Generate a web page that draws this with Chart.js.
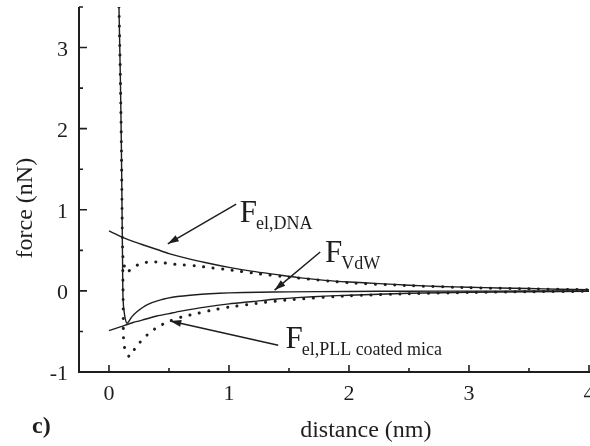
<!DOCTYPE html>
<html>
<head>
<meta charset="utf-8">
<script src="https://cdn.jsdelivr.net/npm/chart.js@4.4.0/dist/chart.umd.min.js"></script>
<style>
  html, body { margin: 0; padding: 0; background: #fff; }
  canvas { display: block; }
</style>
</head>
<body>
<canvas id="c" width="590" height="446"></canvas>
<script>
// Force components vs. tip–sample distance (nm, nN)

// Electrostatic force from the DNA layer
const dnaX = [0, 0.1, 0.2, 0.3, 0.4, 0.5, 0.6, 0.8, 1.0, 1.2, 1.4, 1.6, 1.8, 2.0, 2.25, 2.5, 2.75, 3.0, 3.25, 3.5, 3.75, 4.0];
const dnaY = [0.74, 0.67, 0.61, 0.56, 0.51, 0.46, 0.42, 0.35, 0.29, 0.24, 0.20, 0.16, 0.13, 0.11, 0.09, 0.07, 0.055, 0.045, 0.035, 0.03, 0.02, 0.015];

// Electrostatic force from PLL coated mica
const pllX = [0, 0.1, 0.2, 0.3, 0.4, 0.5, 0.6, 0.8, 1.0, 1.2, 1.4, 1.6, 1.8, 2.0, 2.5, 3.0, 3.5, 4.0];
const pllY = [-0.49, -0.44, -0.39, -0.35, -0.31, -0.28, -0.25, -0.20, -0.16, -0.13, -0.10, -0.08, -0.065, -0.053, -0.03, -0.017, -0.01, -0.006];

// Van der Waals force with the contact wall
const vdwX = [0.083, 0.095, 0.103, 0.108, 0.112, 0.117, 0.13, 0.15, 0.19, 0.23, 0.32, 0.43, 0.57, 0.70, 0.84, 1.0, 1.25, 1.5, 2.0, 2.5, 3.0, 3.5, 4.0];
const vdwY = [3.5, 2.6, 1.8, 1.1, 0.5, -0.1, -0.3, -0.40, -0.32, -0.26, -0.17, -0.11, -0.07, -0.05, -0.035, -0.025, -0.017, -0.012, -0.007, -0.004, -0.003, -0.002, 0];

// Total force over DNA (dotted)
const sumDnaX = [0.083, 0.095, 0.103, 0.108, 0.112, 0.12, 0.15, 0.19, 0.24, 0.34, 0.44, 0.53, 0.62, 0.72, 0.82, 1.0, 1.25, 1.5, 2.0, 2.5, 3.0, 3.5, 4.0];
const sumDnaY = [3.5, 2.6, 1.8, 1.1, 0.6, 0.35, 0.23, 0.28, 0.32, 0.36, 0.35, 0.33, 0.32, 0.31, 0.29, 0.26, 0.21, 0.17, 0.10, 0.065, 0.04, 0.025, 0.015];

// Total force over PLL coated mica (dotted)
const sumPllX = [0.115, 0.118, 0.12, 0.13, 0.17, 0.23, 0.32, 0.41, 0.51, 0.61, 0.70, 0.85, 1.0, 1.25, 1.5, 2.0, 2.5, 3.0, 3.5, 4.0];
const sumPllY = [0.25, -0.2, -0.57, -0.70, -0.81, -0.68, -0.54, -0.44, -0.37, -0.32, -0.29, -0.24, -0.20, -0.15, -0.11, -0.06, -0.035, -0.02, -0.01, -0.005];

// Tick labels
const xTickLabels = ['0', '1', '2', '3', '4'];
const yTickLabels = ['-1', '0', '1', '2', '3'];

// Curve labels: main letter, subscript, text anchor and arrow (tail -> tip), data units
const curveLabels = [
  { main: 'F', sub: 'el,DNA', at: [1.09, 0.85], tail: [1.06, 1.07], tip: [0.49, 0.58] },
  { main: 'F', sub: 'VdW', at: [1.80, 0.36], tail: [1.76, 0.48], tip: [1.38, 0.01] },
  { main: 'F', sub: 'el,PLL coated mica', at: [1.47, -0.70], tail: [1.41, -0.67], tip: [0.51, -0.37] }
];

const INK = '#1e1e1e';
const SERIF = '"Liberation Serif", "Times New Roman", serif';
const toPoints = (xs, ys) => xs.map((x, i) => ({ x: x, y: ys[i] }));

const solid = (data) => ({
  data: data, showLine: true, pointRadius: 0, borderColor: INK,
  borderWidth: 1.4, tension: 0.2, fill: false
});
const dotted = (data) => ({
  data: data, showLine: true, pointRadius: 0, borderColor: INK,
  borderWidth: 3, borderDash: [0.1, 9.5], borderCapStyle: 'round',
  tension: 0.2, fill: false
});

// Axes, ticks, labels and curve annotations drawn on the library's scales
const framePlugin = {
  id: 'frame',
  beforeDatasetsDraw(chart) {
    const ctx = chart.ctx;
    const xs = chart.scales.x, ys = chart.scales.y;
    const x0 = xs.getPixelForValue(xs.min), x1 = xs.getPixelForValue(xs.max);
    const y0 = ys.getPixelForValue(ys.min), y1 = ys.getPixelForValue(ys.max);
    ctx.save();
    ctx.strokeStyle = INK;
    ctx.lineWidth = 2;
    ctx.beginPath();
    ctx.moveTo(x0, y1);
    ctx.lineTo(x0, y0);
    ctx.lineTo(x1 + 2, y0);
    ctx.stroke();

    ctx.lineWidth = 1.6;
    ctx.beginPath();
    for (let v = 0; v <= xs.max + 1e-9; v += 0.5) {
      const px = xs.getPixelForValue(v);
      const len = Number.isInteger(v) ? 7 : 4;
      ctx.moveTo(px, y0);
      ctx.lineTo(px, y0 - len);
    }
    for (let v = ys.min; v <= ys.max + 1e-9; v += 0.5) {
      const py = ys.getPixelForValue(v);
      const len = Number.isInteger(v) ? 8 : 4;
      ctx.moveTo(x0, py);
      ctx.lineTo(x0 + len, py);
    }
    ctx.stroke();

    ctx.fillStyle = INK;
    ctx.font = '22px ' + SERIF;
    ctx.textAlign = 'center';
    ctx.textBaseline = 'alphabetic';
    xTickLabels.forEach(t => {
      ctx.fillText(t, xs.getPixelForValue(parseFloat(t)), y0 + 28);
    });
    ctx.textAlign = 'right';
    yTickLabels.forEach(t => {
      ctx.fillText(t, x0 - 11, ys.getPixelForValue(parseFloat(t)) + 8);
    });

    ctx.font = '24px ' + SERIF;
    ctx.textAlign = 'center';
    ctx.fillText('distance (nm)', (xs.getPixelForValue(2.14)), y0 + 65);
    ctx.save();
    ctx.translate(32, ys.getPixelForValue(1.02));
    ctx.rotate(-Math.PI / 2);
    ctx.fillText('force (nN)', 0, 0);
    ctx.restore();

    ctx.font = 'bold 24px ' + SERIF;
    ctx.textAlign = 'left';
    ctx.fillText('c)', 32, 433);
    ctx.restore();
  },
  afterDatasetsDraw(chart) {
    const ctx = chart.ctx;
    const xs = chart.scales.x, ys = chart.scales.y;
    ctx.save();
    ctx.fillStyle = INK;
    ctx.strokeStyle = INK;
    ctx.textAlign = 'left';
    ctx.textBaseline = 'alphabetic';
    curveLabels.forEach(c => {
      const ax = xs.getPixelForValue(c.at[0]), ay = ys.getPixelForValue(c.at[1]);
      ctx.font = '31px ' + SERIF;
      ctx.fillText(c.main, ax, ay);
      const w = ctx.measureText(c.main).width;
      ctx.font = '18px ' + SERIF;
      ctx.fillText(c.sub, ax + w - 1, ay + 7);

      const tx = xs.getPixelForValue(c.tail[0]), ty = ys.getPixelForValue(c.tail[1]);
      const hx = xs.getPixelForValue(c.tip[0]), hy = ys.getPixelForValue(c.tip[1]);
      ctx.lineWidth = 1.5;
      ctx.beginPath();
      ctx.moveTo(tx, ty);
      ctx.lineTo(hx, hy);
      ctx.stroke();
      const ang = Math.atan2(hy - ty, hx - tx);
      const L = 11, W = 3.5;
      ctx.beginPath();
      ctx.moveTo(hx, hy);
      ctx.lineTo(hx - L * Math.cos(ang) + W * Math.sin(ang), hy - L * Math.sin(ang) - W * Math.cos(ang));
      ctx.lineTo(hx - L * Math.cos(ang) - W * Math.sin(ang), hy - L * Math.sin(ang) + W * Math.cos(ang));
      ctx.closePath();
      ctx.fill();
    });
    ctx.restore();
  }
};

new Chart(document.getElementById('c'), {
  type: 'scatter',
  data: {
    datasets: [
      solid(toPoints(dnaX, dnaY)),
      solid(toPoints(pllX, pllY)),
      solid(toPoints(vdwX, vdwY)),
      dotted(toPoints(sumDnaX, sumDnaY)),
      dotted(toPoints(sumPllX, sumPllY))
    ]
  },
  options: {
    responsive: false,
    devicePixelRatio: 1,
    animation: false,
    layout: { padding: { left: 79, right: 1, top: 7, bottom: 74 } },
    plugins: { legend: { display: false }, tooltip: { enabled: false } },
    scales: {
      x: { type: 'linear', min: -0.25, max: 4, display: false },
      y: { type: 'linear', min: -1, max: 3.5, display: false }
    }
  },
  plugins: [framePlugin]
});
</script>
</body>
</html>
